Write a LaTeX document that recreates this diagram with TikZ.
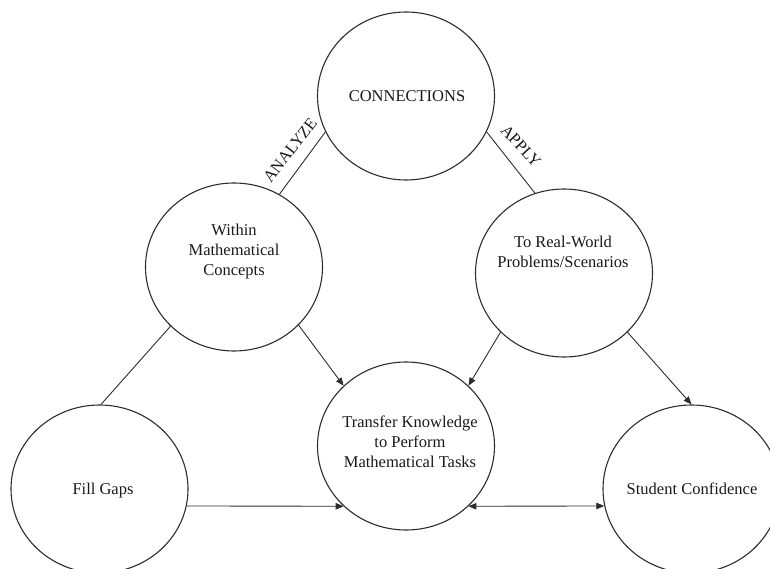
\documentclass[tikz,border=0pt]{standalone}
\usepackage{fontspec}
\setmainfont{Liberation Serif}
\usetikzlibrary{shapes.geometric,arrows.meta}

\definecolor{inkline}{RGB}{45,45,45}
\definecolor{inktext}{RGB}{25,25,25}

\tikzset{
  bubble/.style={ellipse, draw=inkline, line width=1.1pt, minimum width=177pt,
                 minimum height=168pt, inner sep=0pt},
  caption/.style={align=center, inner sep=0pt, text=inktext,
                  font=\fontsize{16.5}{20}\selectfont},
  link/.style={draw=inkline, line width=0.9pt},
  flow/.style={link, -{Triangle[length=8pt,width=6.5pt]}},
  twoway/.style={link, {Triangle[length=8pt,width=6.5pt]}-{Triangle[length=8pt,width=6.5pt]}}
}

\begin{document}
\begin{tikzpicture}[x=1pt, y=-1pt]
  \useasboundingbox (0,0) rectangle (770,569);
  \clip (0,0) rectangle (770,569);

  % circles
  \node[bubble] (con) at (406,96)    {};
  \node[bubble] (wit) at (234,267)   {};
  \node[bubble] (rea) at (564,273)   {};
  \node[bubble] (tra) at (406,446)   {};
  \node[bubble] (fil) at (99.5,489)  {};
  \node[bubble] (stu) at (691.5,489) {};

  % texts inside the circles
  \node[caption] (conT) at (407,96)    {CONNECTIONS};
  \node[caption] (witT) at (234,252)   {Within\\Mathematical\\Concepts};
  \node[caption] (reaT) at (563,252)   {To Real-World\\Problems/Scenarios};
  \node[caption] (traT) at (410,442)   {Transfer Knowledge\\to Perform\\Mathematical Tasks};
  \node[caption] (filT) at (103,491)   {Fill Gaps};
  \node[caption] (stuT) at (692,489)   {Student Confidence};

  % plain links
  \draw[link] (wit.58.5) -- (con.204.8);
  \draw[link] (rea.110) -- (con.-24.7);
  \draw[link] (wit.223) -- (fil.89);

  % arrows
  \draw[flow] (wit.-42.7) -- (tra.136);
  \draw[flow] (rea.223.6) -- (tra.44);
  \draw[flow] (rea.-43.4) -- (stu.90);
  \draw[flow] (fil.-11.2) -- (tra.224);
  \draw[twoway] (tra.-44) -- (stu.191.2);

  % labels along the links
  \node[caption, rotate=52] (analyze) at (290,150) {ANALYZE};
  \node[caption, rotate=-47] (apply) at (521,146) {APPLY};
\end{tikzpicture}
\end{document}
